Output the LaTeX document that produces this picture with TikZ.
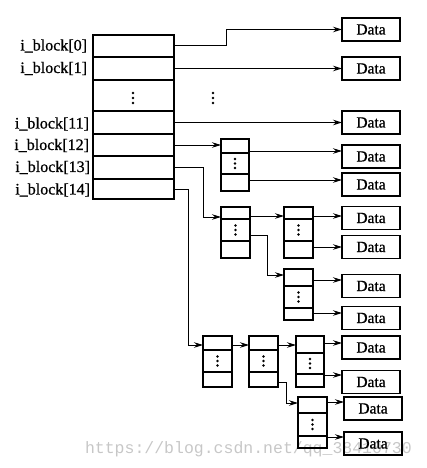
\documentclass[tikz,border=0pt]{standalone}
\usepackage{fontspec}
\setmainfont{Liberation Serif}
\newfontfamily\lblfont[FakeBold=0.8]{Liberation Serif}
\newfontfamily\wmfont{Liberation Mono}
\usetikzlibrary{arrows.meta}
\newcommand\mkblock[7]{%
  \node[cell,minimum width={(#3-#2)*1pt},minimum height={(#5-#4)*1pt}] (#1-t) at (#2,#4) {};
  \node[cell,minimum width={(#3-#2)*1pt},minimum height={(#6-#5)*1pt}] (#1-m) at (#2,#5) {};
  \node[cell,minimum width={(#3-#2)*1pt},minimum height={(#7-#6)*1pt}] (#1-b) at (#2,#6) {};
  \foreach \dd in {-4.5,0,4.5} \fill ([yshift=\dd pt]#1-m.center) circle (1.3pt);
}
\begin{document}
\begin{tikzpicture}[x=1pt,y=-1pt,
  every node/.style={inner sep=0pt,outer sep=0pt},
  row/.style={draw,line width=1.2pt,minimum width=81pt},
  lbl/.style={anchor=east,font=\lblfont\fontsize{16}{16}\selectfont},
  data/.style={draw,line width=1.2pt,minimum width=58pt,minimum height=23pt,font=\lblfont\fontsize{15.5}{15.5}\selectfont},
  cell/.style={draw,line width=1.2pt,anchor=north west},
  arr/.style={line width=1pt,-{Stealth[length=9pt,width=5.5pt]}}]
\useasboundingbox (0,0) rectangle (426,468);
% watermark
\node[anchor=base west,font=\wmfont\fontsize{16.5}{16.5}\selectfont,text=black!22] (wm) at (85,453) {https://blog.csdn.net/qq\_38410730};
% main block
\node[row,minimum height=22pt] (r0) at (133.5,46) {};
\node[row,minimum height=23pt] (r1) at (133.5,68.5) {};
\node[row,minimum height=31pt] (rd) at (133.5,95.5) {};
\node[row,minimum height=23pt] (r11) at (133.5,122.5) {};
\node[row,minimum height=22pt] (r12) at (133.5,145) {};
\node[row,minimum height=23pt] (r13) at (133.5,167.5) {};
\node[row,minimum height=20pt] (r14) at (133.5,189) {};
\foreach \dd in {-5,0,5} {\fill (133,98+\dd) circle (1.4pt); \fill (213,98+\dd) circle (1.4pt);}
% labels
\node[lbl] (l0) at (87,46) {i\_block[0]};
\node[lbl] (l1) at (87,68.5) {i\_block[1]};
\node[lbl] (l11) at (89,124) {i\_block[11]};
\node[lbl] (l12) at (89,145.5) {i\_block[12]};
\node[lbl] (l13) at (90,167.5) {i\_block[13]};
\node[lbl] (l14) at (90,190) {i\_block[14]};
% data boxes
\node[data] (d0) at (371,29.5) {Data};
\node[data] (d1) at (371,68.5) {Data};
\node[data] (d11) at (371,122.5) {Data};
\node[data] (d12a) at (371,156.5) {Data};
\node[data] (d12b) at (371,184.5) {Data};
\node[data] (d13a) at (371,218) {Data};
\node[data] (d13b) at (371,247) {Data};
\node[data] (d13c) at (371,286) {Data};
\node[data] (d13d) at (371,318) {Data};
\node[data] (d14a) at (371,347.5) {Data};
\node[data] (d14b) at (371,382) {Data};
\node[data] (d14c) at (373,408.5) {Data};
\node[data] (d14d) at (373,443.5) {Data};
% small blocks
\mkblock{b1}{221}{249}{139}{153}{174}{191}
\mkblock{b2}{221}{250}{207}{219}{241}{258}
\mkblock{b3}{284}{313}{207}{219}{241}{258}
\mkblock{b4}{284}{313}{269}{286}{308}{320}
\mkblock{b5}{203}{232}{336}{350}{372}{387}
\mkblock{b6}{249}{278}{336}{350}{372}{387}
\mkblock{b7}{296}{324}{336}{353}{374}{387}
\mkblock{b8}{298}{327}{397}{413}{436}{448}
% connectors
\draw[arr] (r0.east) -- ++(52,0) |- (d0.west);
\draw[arr] (r1.east) -- (d1.west);
\draw[arr] (r11.east) -- (d11.west);
\draw[arr] (r12.east) -- (r12.east -| b1-t.west);
\draw[arr] ([yshift=-5pt]b1-t.east) -- ([yshift=-5pt]b1-t.east -| d12a.west);
\draw[arr] ([yshift=2.5pt]b1-b.east) -- ([yshift=2.5pt]b1-b.east -| d12b.west);
\draw[arr] (r13.east) -- ++(29,0) |- ([yshift=-4pt]b2-t.west);
\draw[arr] ([yshift=-3pt]b2-t.east) -- ([yshift=-3pt]b3-t.west);
\draw[arr] ([yshift=-3pt]b3-t.east) -- ([yshift=-3pt]b3-t.east -| d13a.west);
\draw[arr] ([yshift=2.5pt]b3-b.east) -- ([yshift=2.5pt]b3-b.east -| d13b.west);
\draw[arr] ([yshift=-5pt]b2-m.east) -- ++(17,0) |- ([yshift=2.5pt]b4-t.west);
\draw[arr] ([yshift=-2.5pt]b4-t.east) -- ([yshift=-2.5pt]b4-t.east -| d13c.west);
\draw[arr] ([yshift=1pt]b4-b.east) -- ([yshift=1pt]b4-b.east -| d13d.west);
\draw[arr] (r14.east) -- ++(14,0) |- ([yshift=-2pt]b5-t.west);
\draw[arr] ([yshift=-2pt]b5-t.east) -- ([yshift=-2pt]b5-t.east -| b6-t.west);
\draw[arr] ([yshift=-2pt]b6-t.east) -- ([yshift=-2pt]b6-t.east -| b7-t.west);
\draw[arr] ([yshift=1.5pt]b7-t.east) -- ([yshift=1.5pt]b7-t.east -| d14a.west);
\draw[arr] ([yshift=5.5pt]b7-b.east) -- ([yshift=5.5pt]b7-b.east -| d14b.west);
\draw[arr] ([yshift=-2.5pt]b6-b.east) -- ++(8,0) |- ([yshift=2pt]b8-t.west);
\draw[arr] ([yshift=3pt]b8-t.east) -- ([yshift=3pt]b8-t.east -| d14c.west);
\draw[arr] ([yshift=5pt]b8-b.east) -- ([yshift=5pt]b8-b.east -| d14d.west);
\end{tikzpicture}
\end{document}
